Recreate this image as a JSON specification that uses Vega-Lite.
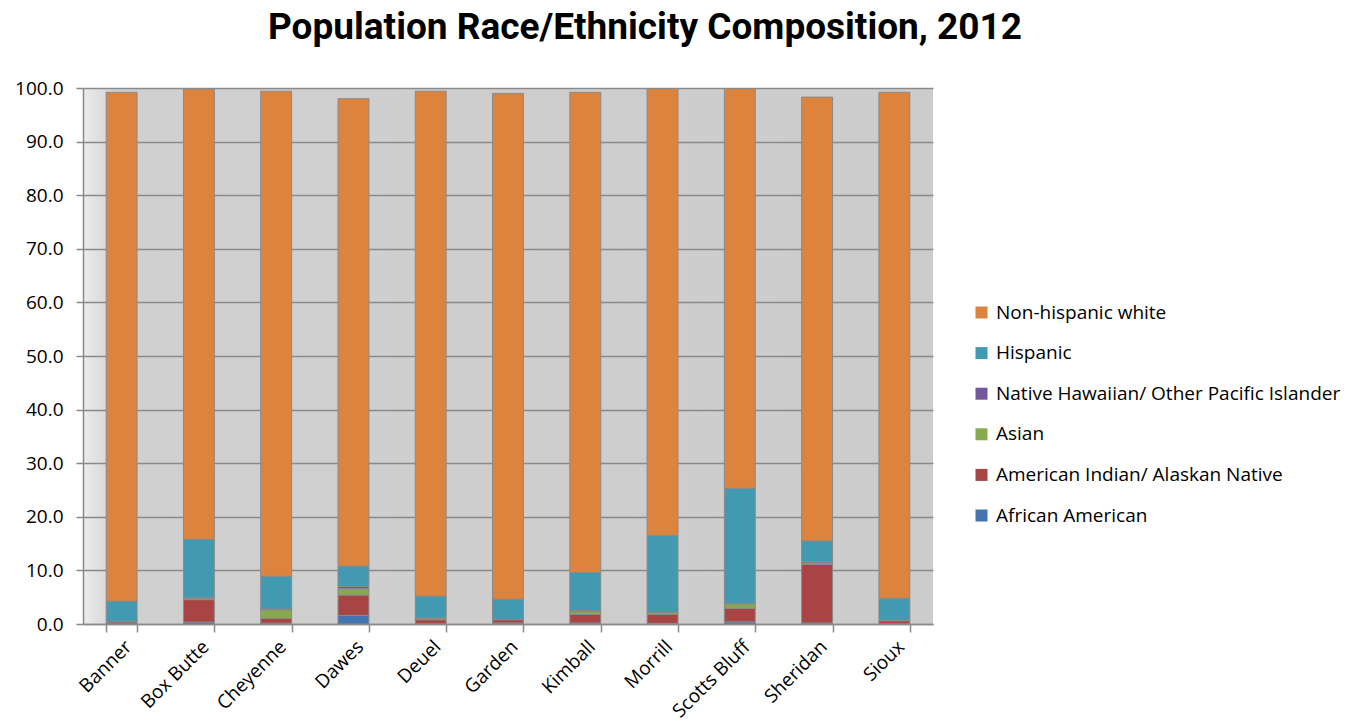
{
  "$schema": "https://vega.github.io/schema/vega-lite/v6.json",
  "width": 850,
  "height": 536,
  "autosize": {"type": "none"},
  "padding": {"left": 83, "top": 88, "right": 415, "bottom": 101},
  "background": "#ffffff",
  "title": {
    "text": "Population Race/Ethnicity Composition, 2012",
    "font": "Roboto",
    "fontWeight": "bold",
    "fontSize": 37,
    "color": "#000000",
    "anchor": "middle",
    "dx": 137,
    "offset": 32
  },
  "data": {
    "values": [
      {"county": "Banner", "group": "African American", "pct": 0.05},
      {"county": "Banner", "group": "American Indian/ Alaskan Native", "pct": 0.35},
      {"county": "Banner", "group": "Asian", "pct": 0.05},
      {"county": "Banner", "group": "Native Hawaiian/ Other Pacific Islander", "pct": 0.0},
      {"county": "Banner", "group": "Hispanic", "pct": 3.8},
      {"county": "Banner", "group": "Non-hispanic white", "pct": 94.95},
      {"county": "Box Butte", "group": "African American", "pct": 0.35},
      {"county": "Box Butte", "group": "American Indian/ Alaskan Native", "pct": 4.2},
      {"county": "Box Butte", "group": "Asian", "pct": 0.3},
      {"county": "Box Butte", "group": "Native Hawaiian/ Other Pacific Islander", "pct": 0.05},
      {"county": "Box Butte", "group": "Hispanic", "pct": 10.9},
      {"county": "Box Butte", "group": "Non-hispanic white", "pct": 84.0},
      {"county": "Cheyenne", "group": "African American", "pct": 0.15},
      {"county": "Cheyenne", "group": "American Indian/ Alaskan Native", "pct": 0.9},
      {"county": "Cheyenne", "group": "Asian", "pct": 1.6},
      {"county": "Cheyenne", "group": "Native Hawaiian/ Other Pacific Islander", "pct": 0.15},
      {"county": "Cheyenne", "group": "Hispanic", "pct": 6.1},
      {"county": "Cheyenne", "group": "Non-hispanic white", "pct": 90.5},
      {"county": "Dawes", "group": "African American", "pct": 1.6},
      {"county": "Dawes", "group": "American Indian/ Alaskan Native", "pct": 3.8},
      {"county": "Dawes", "group": "Asian", "pct": 1.2},
      {"county": "Dawes", "group": "Native Hawaiian/ Other Pacific Islander", "pct": 0.4},
      {"county": "Dawes", "group": "Hispanic", "pct": 3.8},
      {"county": "Dawes", "group": "Non-hispanic white", "pct": 87.2},
      {"county": "Deuel", "group": "African American", "pct": 0.05},
      {"county": "Deuel", "group": "American Indian/ Alaskan Native", "pct": 0.75},
      {"county": "Deuel", "group": "Asian", "pct": 0.35},
      {"county": "Deuel", "group": "Native Hawaiian/ Other Pacific Islander", "pct": 0.0},
      {"county": "Deuel", "group": "Hispanic", "pct": 4.05},
      {"county": "Deuel", "group": "Non-hispanic white", "pct": 94.2},
      {"county": "Garden", "group": "African American", "pct": 0.2},
      {"county": "Garden", "group": "American Indian/ Alaskan Native", "pct": 0.6},
      {"county": "Garden", "group": "Asian", "pct": 0.05},
      {"county": "Garden", "group": "Native Hawaiian/ Other Pacific Islander", "pct": 0.0},
      {"county": "Garden", "group": "Hispanic", "pct": 3.75},
      {"county": "Garden", "group": "Non-hispanic white", "pct": 94.4},
      {"county": "Kimball", "group": "African American", "pct": 0.2},
      {"county": "Kimball", "group": "American Indian/ Alaskan Native", "pct": 1.6},
      {"county": "Kimball", "group": "Asian", "pct": 0.6},
      {"county": "Kimball", "group": "Native Hawaiian/ Other Pacific Islander", "pct": 0.1},
      {"county": "Kimball", "group": "Hispanic", "pct": 7.1},
      {"county": "Kimball", "group": "Non-hispanic white", "pct": 89.6},
      {"county": "Morrill", "group": "African American", "pct": 0.1},
      {"county": "Morrill", "group": "American Indian/ Alaskan Native", "pct": 1.7},
      {"county": "Morrill", "group": "Asian", "pct": 0.35},
      {"county": "Morrill", "group": "Native Hawaiian/ Other Pacific Islander", "pct": 0.05},
      {"county": "Morrill", "group": "Hispanic", "pct": 14.3},
      {"county": "Morrill", "group": "Non-hispanic white", "pct": 83.4},
      {"county": "Scotts Bluff", "group": "African American", "pct": 0.4},
      {"county": "Scotts Bluff", "group": "American Indian/ Alaskan Native", "pct": 2.55},
      {"county": "Scotts Bluff", "group": "Asian", "pct": 0.8},
      {"county": "Scotts Bluff", "group": "Native Hawaiian/ Other Pacific Islander", "pct": 0.1},
      {"county": "Scotts Bluff", "group": "Hispanic", "pct": 21.45},
      {"county": "Scotts Bluff", "group": "Non-hispanic white", "pct": 74.6},
      {"county": "Sheridan", "group": "African American", "pct": 0.2},
      {"county": "Sheridan", "group": "American Indian/ Alaskan Native", "pct": 10.9},
      {"county": "Sheridan", "group": "Asian", "pct": 0.3},
      {"county": "Sheridan", "group": "Native Hawaiian/ Other Pacific Islander", "pct": 0.2},
      {"county": "Sheridan", "group": "Hispanic", "pct": 3.9},
      {"county": "Sheridan", "group": "Non-hispanic white", "pct": 82.8},
      {"county": "Sioux", "group": "African American", "pct": 0.05},
      {"county": "Sioux", "group": "American Indian/ Alaskan Native", "pct": 0.55},
      {"county": "Sioux", "group": "Asian", "pct": 0.15},
      {"county": "Sioux", "group": "Native Hawaiian/ Other Pacific Islander", "pct": 0.0},
      {"county": "Sioux", "group": "Hispanic", "pct": 4.05},
      {"county": "Sioux", "group": "Non-hispanic white", "pct": 94.4}
    ]
  },
  "transform": [
    {
      "calculate": "indexof(['African American', 'American Indian/ Alaskan Native', 'Asian', 'Native Hawaiian/ Other Pacific Islander', 'Hispanic', 'Non-hispanic white'], datum.group)",
      "as": "stackOrder"
    }
  ],
  "mark": {"type": "bar", "stroke": "#8a8a8a", "strokeWidth": 1},
  "encoding": {
    "x": {
      "field": "county",
      "type": "nominal",
      "sort": null,
      "scale": {"paddingInner": 0.6, "paddingOuter": 0.3},
      "axis": {
        "title": null,
        "labelAngle": -45,
        "labelAlign": "right",
        "labelBaseline": "top",
        "labelFont": "Open Sans",
        "labelFontSize": 19,
        "labelColor": "#000000",
        "labelPadding": 5,
        "labelOffset": 0,
        "tickSize": 8,
        "tickColor": "#8a8a8a",
        "tickWidth": 1.5,
        "tickBand": "extent",
        "domainColor": "#8a8a8a",
        "domainWidth": 1.5
      }
    },
    "y": {
      "field": "pct",
      "type": "quantitative",
      "stack": "zero",
      "scale": {"domain": [0, 100], "nice": false},
      "axis": {
        "title": null,
        "values": [0, 10, 20, 30, 40, 50, 60, 70, 80, 90, 100],
        "format": ".1f",
        "labelFont": "Open Sans",
        "labelFontSize": 19,
        "labelColor": "#000000",
        "labelPadding": 13,
        "tickSize": 7,
        "tickColor": "#8a8a8a",
        "tickWidth": 1.5,
        "grid": true,
        "gridColor": "#8a8a8a",
        "gridWidth": 1.5,
        "domainColor": "#8a8a8a",
        "domainWidth": 1.5
      }
    },
    "color": {
      "field": "group",
      "type": "nominal",
      "scale": {
        "domain": ["Non-hispanic white", "Hispanic", "Native Hawaiian/ Other Pacific Islander", "Asian", "American Indian/ Alaskan Native", "African American"],
        "range": ["#dc843e", "#4199b2", "#71589a", "#88a94d", "#a84544", "#4575b0"]
      },
      "legend": {
        "title": null,
        "orient": "none",
        "legendX": 889,
        "legendY": 215,
        "symbolType": "square",
        "symbolSize": 144,
        "symbolStrokeWidth": 0,
        "labelFont": "Open Sans",
        "labelFontSize": 19,
        "labelColor": "#000000",
        "labelOffset": 5,
        "rowPadding": 20.6,
        "labelLimit": 500
      }
    },
    "order": {"field": "stackOrder", "type": "quantitative", "sort": "ascending"}
  },
  "config": {
    "view": {
      "stroke": null,
      "fill": {
        "gradient": "linear",
        "x1": 0, "y1": 0, "x2": 1, "y2": 0,
        "stops": [
          {"offset": 0, "color": "#ececec"},
          {"offset": 0.04, "color": "#d0d0d0"},
          {"offset": 1, "color": "#cccccc"}
        ]
      }
    }
  }
}
